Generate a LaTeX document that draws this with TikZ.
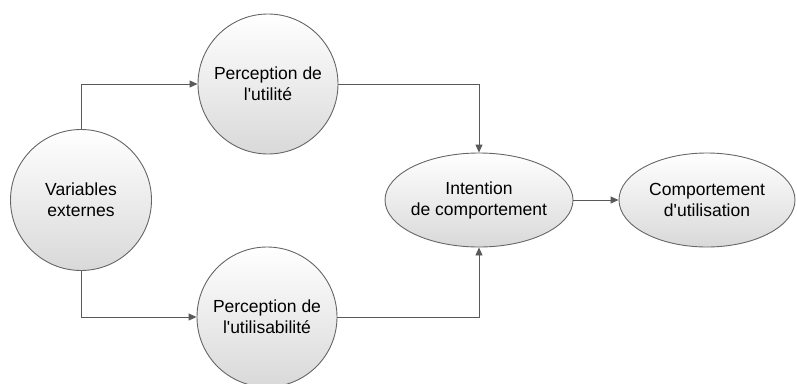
\documentclass[tikz,border=0pt]{standalone}
\usepackage{fontspec}
\setmainfont{Liberation Sans}
\usetikzlibrary{shapes.geometric,arrows.meta}

\begin{document}
\begin{tikzpicture}[x=1pt,y=-1pt,
		bubble/.style={draw=black!60, line width=0.9pt, top color=white, bottom color=black!15,
			align=center, font=\fontsize{17.5}{21}\selectfont, inner sep=0pt},
		link/.style={draw=black!65, line width=0.9pt, -{Triangle[length=8pt,width=7pt]}}]
				\useasboundingbox (0,0) rectangle (797,383);
				\path (81,200) node[bubble, circle, minimum size=141pt] (n1){Variables\\externes}
				(268,84) node[bubble, circle, minimum size=140pt] (n2){Perception de\\l\textquotesingle utilité}
				(267,317) node[bubble, circle, minimum size=140pt] (n3){Perception de\\l\textquotesingle utilisabilité}
				(479,200) node[bubble, ellipse, inner xsep=-6pt, minimum width=188pt, minimum height=94pt] (n4){Intention\\de comportement}
				(707,200) node[bubble, ellipse, inner xsep=-6pt, minimum width=176pt, minimum height=94pt] (n5){Comportement\\d\textquotesingle utilisation};
				
				\draw[link] (n1.north) |- (n2.west);
				\draw[link] (n1.south) |- (n3.west);
				\draw[link] (n2.east) -| (n4.north);
				\draw[link] (n3.east) -| (n4.south);
				\draw[link] (n4.east) -- (n5.west);
			\end{tikzpicture}
\end{document}
